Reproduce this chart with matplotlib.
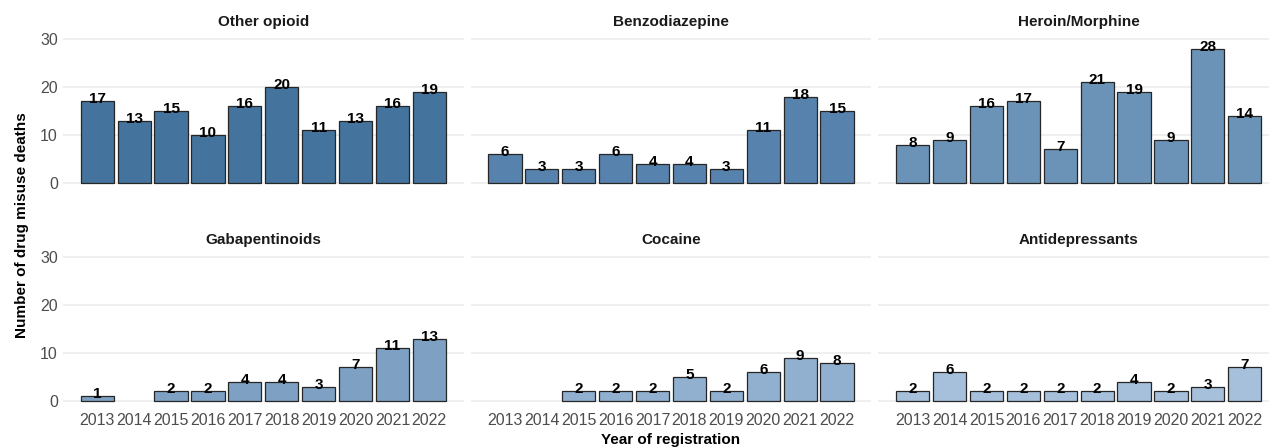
import numpy as np
import matplotlib
matplotlib.use("Agg")
import matplotlib.pyplot as plt

# data
years = ["2013", "2014", "2015", "2016", "2017", "2018", "2019", "2020", "2021", "2022"]
drugs = ["Other opioid", "Benzodiazepine", "Heroin/Morphine",
         "Gabapentinoids", "Cocaine", "Antidepressants"]
other_opioid = [17, 13, 15, 10, 16, 20, 11, 13, 16, 19]
benzodiazepine = [6, 3, 3, 6, 4, 4, 3, 11, 18, 15]
heroin_morphine = [8, 9, 16, 17, 7, 21, 19, 9, 28, 14]
gabapentinoids = [1, None, 2, 2, 4, 4, 3, 7, 11, 13]
cocaine = [None, None, 2, 2, 2, 5, 2, 6, 9, 8]
antidepressants = [2, 6, 2, 2, 2, 2, 4, 2, 3, 7]
series = [other_opioid, benzodiazepine, heroin_morphine,
          gabapentinoids, cocaine, antidepressants]
colors = ["#44739e", "#5882ae", "#6b93b7", "#7ea1c3", "#91b0d0", "#a6bfdb"]

plt.rcParams["font.family"] = ["Liberation Sans", "DejaVu Sans"]

W, H = 1269, 448
fig = plt.figure(figsize=(W / 100, H / 100), dpi=100)

# panel geometry in pixels
lefts = [62.8, 470.5, 878.2]
panel_w = 401
rows = [(31.8, 190.2), (249.8, 408.2)]  # (top, bottom)

x = np.arange(len(years))
for i, (name, vals, col) in enumerate(zip(drugs, series, colors)):
    r, c = divmod(i, 3)
    top, bot = rows[r]
    ax = fig.add_axes([lefts[c] / W, 1 - bot / H, panel_w / W, (bot - top) / H])
    v = np.array([np.nan if a is None else a for a in vals], dtype=float)
    ax.bar(x, np.nan_to_num(v), width=0.9, color=np.where(np.isnan(v), "none", col),
           edgecolor=["none" if np.isnan(a) else "#262626" for a in v],
           linewidth=0.9, zorder=2)
    for xi, vi in zip(x, v):
        if not np.isnan(vi):
            ax.text(xi, vi + 0.4, f"{int(vi)}", ha="center", va="center",
                    fontsize=11, fontweight="bold", color="black", zorder=3)
    ax.set_xlim(-0.935, 9.935)
    ax.set_ylim(-1.5, 31.5)
    ax.set_yticks([0, 10, 20, 30])
    ax.grid(axis="y", color="#ebebeb", linewidth=1.1, zorder=0)
    for s in ax.spines.values():
        s.set_visible(False)
    ax.tick_params(length=0, colors="#4d4d4d", labelsize=11.5, pad=3.5)
    ax.set_xticks(x)
    if r == 1:
        ax.set_xticklabels(years)
    else:
        ax.set_xticklabels([])
    if c != 0:
        ax.set_yticklabels([])
    fig.text((lefts[c] + panel_w / 2) / W, 1 - (top - 9.5) / H, name,
             ha="center", va="center", fontsize=11, fontweight="bold", color="#1a1a1a")

fig.text(22 / W, 1 - 225 / H, "Number of drug misuse deaths", rotation=90,
         ha="center", va="center", fontsize=11, fontweight="bold", color="black")
fig.text(671 / W, 1 - 440 / H, "Year of registration",
         ha="center", va="center", fontsize=11, fontweight="bold", color="black")

fig.savefig("out.png", dpi=100, facecolor="white")
